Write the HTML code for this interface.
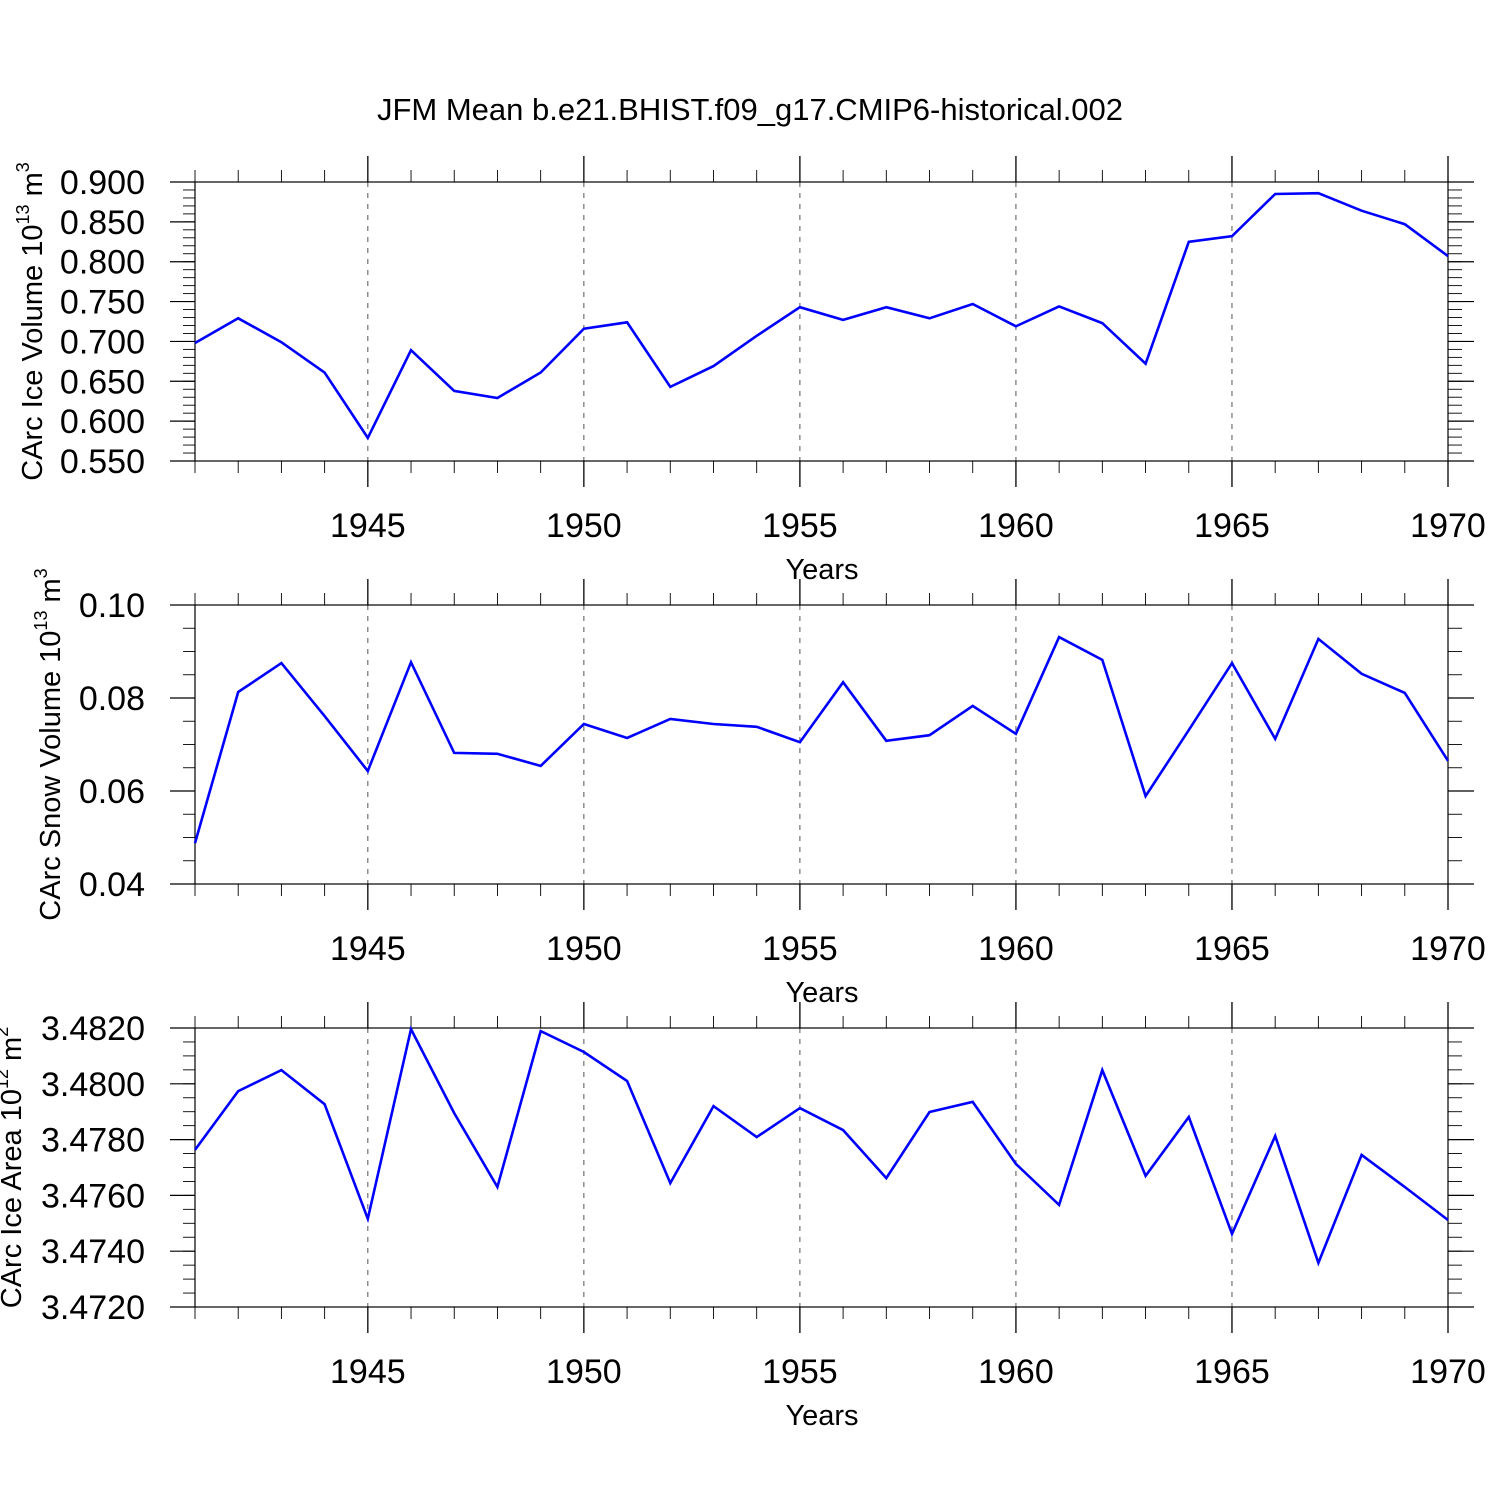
<!DOCTYPE html>
<html><head><meta charset="utf-8">
<style>html,body{margin:0;padding:0;background:#fff}svg{display:block}text{font-family:"Liberation Sans",sans-serif;fill:#000}</style>
</head><body>
<svg id="chart" width="1500" height="1500" viewBox="0 0 1500 1500" xmlns="http://www.w3.org/2000/svg">
<text x="750" y="120" font-size="31" text-anchor="middle">JFM Mean b.e21.BHIST.f09_g17.CMIP6-historical.002</text>
</svg>
<script>
const years = [1941,1942,1943,1944,1945,1946,1947,1948,1949,1950,1951,1952,1953,1954,1955,1956,1957,1958,1959,1960,1961,1962,1963,1964,1965,1966,1967,1968,1969,1970];
const iceVolume = [0.698,0.729,0.699,0.661,0.579,0.689,0.638,0.629,0.661,0.716,0.724,0.643,0.669,0.707,0.743,0.727,0.743,0.729,0.747,0.719,0.744,0.723,0.672,0.825,0.832,0.885,0.886,0.864,0.847,0.807];
const snowVolume = [0.0488,0.0813,0.0875,0.0761,0.0643,0.0877,0.0682,0.0680,0.0654,0.0744,0.0714,0.0755,0.0744,0.0738,0.0705,0.0834,0.0708,0.0720,0.0783,0.0723,0.0931,0.0882,0.0589,0.0731,0.0875,0.0712,0.0927,0.0852,0.0811,0.0665];
const iceArea = [3.47763,3.47974,3.48049,3.47927,3.47516,3.48196,3.47895,3.47630,3.48189,3.48114,3.48010,3.47644,3.47920,3.47809,3.47913,3.47834,3.47662,3.47899,3.47935,3.47713,3.47566,3.48049,3.47670,3.47881,3.47462,3.47813,3.47358,3.47745,3.47630,3.47512];
const xTickLabels = ["1945","1950","1955","1960","1965","1970"];
const iceTicks = ["0.550","0.600","0.650","0.700","0.750","0.800","0.850","0.900"];
const snowTicks = ["0.04","0.06","0.08","0.10"];
const areaTicks = ["3.4720","3.4740","3.4760","3.4780","3.4800","3.4820"];

const NS="http://www.w3.org/2000/svg";
const svg=document.getElementById('chart');
function mk(tag,attrs,parent){const e=document.createElementNS(NS,tag);for(const k in attrs)e.setAttribute(k,attrs[k]);(parent||svg).appendChild(e);return e;}
const X0=195,X1=1448;
function xs(y){return X0+(y-1941)*(X1-X0)/(1970-1941);}

function panel(name,top,vals,ticks,ymin,ymax,minorStep,titleParts,titleX){
  const bot=top+279;
  const g=mk('g',{});
  
  
  const ys=v=>bot-(v-ymin)*(bot-top)/(ymax-ymin);
  xTickLabels.forEach(t=>{const yr=+t;if(yr<1970){const l=mk('line',{x1:xs(yr),x2:xs(yr),y1:top,y2:bot,stroke:'#555','stroke-width':1,'stroke-dasharray':'5,6'},g);
    
    }});
  const fr=mk('rect',{x:X0,y:top,width:X1-X0,height:bot-top,fill:'none',stroke:'#000','stroke-width':1.2},g);
  
  
  for(let yr=1941;yr<=1970;yr++){const major=yr%5===0;const len=major?26:12;const x=xs(yr);
    mk('line',{x1:x,x2:x,y1:top,y2:top-len,stroke:'#000','stroke-width':major?1.3:0.9},g);
    mk('line',{x1:x,x2:x,y1:bot,y2:bot+len,stroke:'#000','stroke-width':major?1.3:0.9},g);}
  const n=Math.round((ymax-ymin)/minorStep);
  for(let i=0;i<=n;i++){const y=ys(ymin+i*minorStep);
    mk('line',{x1:X0,x2:X0-12,y1:y,y2:y,stroke:'#000','stroke-width':0.9},g);
    mk('line',{x1:X1,x2:X1+14,y1:y,y2:y,stroke:'#000','stroke-width':0.9},g);}
  ticks.forEach(t=>{const y=ys(+t);
    mk('line',{x1:X0,x2:X0-25,y1:y,y2:y,stroke:'#000','stroke-width':1.2},g);
    mk('line',{x1:X1,x2:X1+26,y1:y,y2:y,stroke:'#000','stroke-width':1.2},g);
    const tx=mk('text',{x:145,y:y+12,'font-size':34,'text-anchor':'end'},g);tx.textContent=t;
    
    });
  xTickLabels.forEach(t=>{const tx=mk('text',{x:xs(+t),y:bot+76,'font-size':34,'text-anchor':'middle'},g);tx.textContent=t;
    
    });
  const xt=mk('text',{x:822,y:bot+118,'font-size':29,'text-anchor':'middle'},g);xt.textContent='Years';
  
  
  const yt=mk('text',{transform:`translate(${titleX},${(top+bot)/2}) rotate(-90)`,'font-size':29,'text-anchor':'middle'},g);
  
  
  const a=mk('tspan',{},yt);a.textContent=titleParts[0];
  const b=mk('tspan',{'font-size':18,dy:-13},yt);b.textContent=titleParts[1];
  const c=mk('tspan',{dy:13},yt);c.textContent=' '+titleParts[2];
  const d=mk('tspan',{'font-size':18,dy:-13},yt);d.textContent=titleParts[3];
  const pts=vals.map((v,i)=>xs(years[i]).toFixed(1)+','+ys(v).toFixed(1)).join(' ');
  const pl=mk('polyline',{points:pts,fill:'none',stroke:'#0000ff','stroke-width':2.6,'stroke-linejoin':'miter'},g);
  
  
}
panel('ice-volume',182,iceVolume,iceTicks,0.55,0.90,0.01,['CArc Ice Volume 10','13','m','3'],42);
panel('snow-volume',605,snowVolume,snowTicks,0.04,0.10,0.005,['CArc Snow Volume 10','13','m','3'],60);
panel('ice-area',1028,iceArea,areaTicks,3.472,3.482,0.0005,['CArc Ice Area 10','12','m','2'],21);
</script>
</body></html>
